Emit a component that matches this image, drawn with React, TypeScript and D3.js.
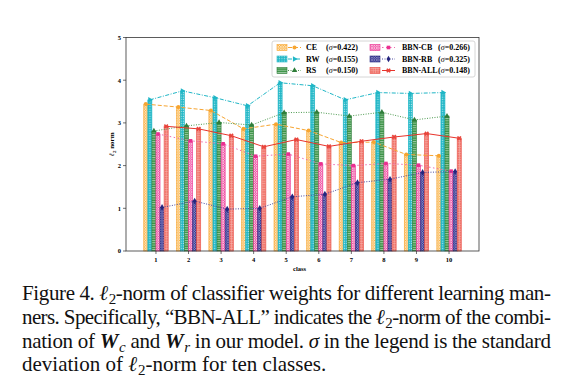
import { useEffect, useRef } from 'react'
import * as d3 from 'd3'

const classes = [1, 2, 3, 4, 5, 6, 7, 8, 9, 10]
const ceValues = [3.44, 3.37, 3.29, 2.86, 2.97, 2.82, 2.54, 2.55, 2.26, 2.23]
const rwValues = [3.54, 3.75, 3.59, 3.4, 3.94, 3.87, 3.54, 3.71, 3.69, 3.71]
const rsValues = [2.81, 2.93, 3.01, 2.95, 3.24, 3.25, 3.16, 3.25, 3.07, 3.16]
const cbValues = [2.74, 2.58, 2.51, 2.22, 2.27, 2.04, 2.0, 2.05, 2.01, 1.87]
const rbValues = [1.02, 1.17, 0.98, 1.0, 1.27, 1.33, 1.6, 1.68, 1.84, 1.86]
const allValues = [2.92, 2.86, 2.7, 2.44, 2.61, 2.45, 2.57, 2.67, 2.75, 2.64]
const seriesNames = ['CE', 'RW', 'RS', 'BBN-CB', 'BBN-RB', 'BBN-ALL']
const sigmaLabels = ['0.422', '0.155', '0.150', '0.266', '0.325', '0.148']
const yTicks = [0, 1, 2, 3, 4, 5]

type Run = { t: string; italic?: boolean; bold?: boolean; sub?: boolean }

const captionLines: Run[][] = [
  [
    { t: 'Figure 4. ' },
    { t: 'ℓ', italic: true },
    { t: '2', sub: true },
    { t: '-norm of classifier weights for different learning man-' },
  ],
  [
    { t: 'ners. Specifically, “BBN-ALL” indicates the ' },
    { t: 'ℓ', italic: true },
    { t: '2', sub: true },
    { t: '-norm of the combi-' },
  ],
  [
    { t: 'nation of ' },
    { t: 'W', italic: true, bold: true },
    { t: 'c', italic: true, sub: true },
    { t: ' and ' },
    { t: 'W', italic: true, bold: true },
    { t: 'r', italic: true, sub: true },
    { t: ' in our model. ' },
    { t: 'σ', italic: true },
    { t: ' in the legend is the standard' },
  ],
  [
    { t: 'deviation of ' },
    { t: 'ℓ', italic: true },
    { t: '2', sub: true },
    { t: '-norm for ten classes.' },
  ],
]

// style per series: base fill, stroke, line dash, marker
const styles = [
  { fill: '#fbb347', stroke: '#f7a531', line: '#f7a531', dash: '4,2', symbol: d3.symbolCircle, rot: 0 },
  { fill: '#1fb6c6', stroke: '#1fb6c6', line: '#1fb6c6', dash: '4,1.5,1,1.5', symbol: d3.symbolTriangle, rot: 90 },
  { fill: '#3a9445', stroke: '#2f7d3a', line: '#4c9a4f', dash: '1,1.5', symbol: d3.symbolTriangle, rot: 0 },
  { fill: '#f0489f', stroke: '#ea2f90', line: '#f06aae', dash: '1.5,2.5', symbol: d3.symbolSquare, rot: 0 },
  { fill: '#2e2e8e', stroke: '#25257e', line: '#4a4aa0', dash: '1,1.5', symbol: d3.symbolDiamond, rot: 0 },
  { fill: '#f0756b', stroke: '#e8453c', line: '#e8332b', dash: '', symbol: d3.symbolCross, rot: 45 },
]

const FONT = "'Liberation Serif', 'Times New Roman', serif"

export default function App() {
  const svgRef = useRef<SVGSVGElement | null>(null)

  useEffect(() => {
    const svgEl = svgRef.current
    if (!svgEl) return
    const svg = d3.select(svgEl)
    svg.selectAll('*').remove()

    const seriesValues = [ceValues, rwValues, rsValues, cbValues, rbValues, allValues]

    const x = d3.scaleLinear().domain([0.08, 10.92]).range([126, 479])
    const y = d3.scaleLinear().domain([0, 5]).range([251, 37.5])
    const barW = 0.125
    const barPx = x(barW) - x(0)

    // hatch patterns
    const defs = svg.append('defs')
    const mkPattern = (id: string, size: number, base: string) => {
      const p = defs
        .append('pattern')
        .attr('id', id)
        .attr('patternUnits', 'userSpaceOnUse')
        .attr('width', size)
        .attr('height', size)
      p.append('rect').attr('width', size).attr('height', size).attr('fill', base)
      return p
    }
    const cross = (p: any, size: number, w: number, op: number) =>
      p
        .append('path')
        .attr('d', `M0,0L${size},${size}M${size},0L0,${size}`)
        .attr('stroke', '#fff')
        .attr('stroke-width', w)
        .attr('opacity', op)

    cross(mkPattern('h0', 2.6, styles[0].fill), 2.6, 0.7, 0.75)
    const p1 = mkPattern('h1', 2.4, styles[1].fill)
    p1.append('rect').attr('x', 0.6).attr('y', 0.6).attr('width', 1.1).attr('height', 1.1).attr('fill', '#fff').attr('opacity', 0.75)
    const p2 = mkPattern('h2', 2.3, styles[2].fill)
    p2.append('rect').attr('y', 0.9).attr('width', 2.3).attr('height', 0.8).attr('fill', '#fff').attr('opacity', 0.6)
    cross(mkPattern('h3', 2.4, styles[3].fill), 2.4, 0.7, 0.75)
    cross(mkPattern('h4', 2.4, styles[4].fill), 2.4, 0.6, 0.55)
    const p5 = mkPattern('h5', 2.4, styles[5].fill)
    p5.append('path').attr('d', 'M0,1.2H2.4M1.2,0V2.4').attr('stroke', '#fff').attr('stroke-width', 0.5).attr('opacity', 0.45)

    // bars
    seriesValues.forEach((vals, i) => {
      svg
        .append('g')
        .selectAll('rect')
        .data(vals)
        .enter()
        .append('rect')
        .attr('x', (_, k) => x(classes[k] + (i - 3) * barW))
        .attr('y', (d) => y(d))
        .attr('width', barPx)
        .attr('height', (d) => y(0) - y(d))
        .attr('fill', `url(#h${i})`)
        .attr('stroke', styles[i].stroke)
        .attr('stroke-width', 0.6)
    })

    // lines + markers
    seriesValues.forEach((vals, i) => {
      const pts = vals.map((v, k) => [x(classes[k] + (i - 2.5) * barW), y(v)] as [number, number])
      svg
        .append('path')
        .attr('d', d3.line()(pts) ?? '')
        .attr('fill', 'none')
        .attr('stroke', styles[i].line)
        .attr('stroke-width', 1)
        .attr('stroke-dasharray', styles[i].dash || null)
      const sym = d3.symbol().type(styles[i].symbol).size(i === 5 ? 14 : 13)
      svg
        .append('g')
        .selectAll('path')
        .data(pts)
        .enter()
        .append('path')
        .attr('d', sym() ?? '')
        .attr('transform', (p) => `translate(${p[0]},${p[1]}) rotate(${styles[i].rot})`)
        .attr('fill', styles[i].stroke)
    })

    // frame
    svg
      .append('rect')
      .attr('x', 126)
      .attr('y', 37.5)
      .attr('width', 479 - 126)
      .attr('height', 251 - 37.5)
      .attr('fill', 'none')
      .attr('stroke', '#333')
      .attr('stroke-width', 0.8)

    // y ticks
    const yg = svg.append('g').attr('font-family', FONT).attr('font-weight', 'bold').attr('font-size', 6.5)
    yTicks.forEach((t) => {
      yg.append('line').attr('x1', 123).attr('x2', 126).attr('y1', y(t)).attr('y2', y(t)).attr('stroke', '#333').attr('stroke-width', 0.7)
      yg.append('text').attr('x', 121).attr('y', y(t) + 2.3).attr('text-anchor', 'end').text(String(t))
    })
    classes.forEach((c) => {
      yg.append('line').attr('x1', x(c)).attr('x2', x(c)).attr('y1', 251).attr('y2', 254).attr('stroke', '#333').attr('stroke-width', 0.7)
      yg.append('text').attr('x', x(c)).attr('y', 262).attr('text-anchor', 'middle').text(String(c))
    })
    yg.append('text').attr('x', (126 + 479) / 2 - 3).attr('y', 271).attr('text-anchor', 'middle').attr('font-size', 6.5).text('class')
    const yl = yg
      .append('text')
      .attr('transform', `translate(114,${(37.5 + 251) / 2}) rotate(-90)`)
      .attr('text-anchor', 'middle')
      .attr('font-size', 7)
    yl.append('tspan').attr('font-style', 'italic').text('ℓ')
    yl.append('tspan').attr('font-size', 5).attr('dy', 1.5).text('2')
    yl.append('tspan').attr('dy', -1.5).text(' norm')

    // legend
    const lg = svg.append('g').attr('font-family', FONT).attr('font-weight', 'bold').attr('font-size', 8)
    lg.append('rect')
      .attr('x', 272)
      .attr('y', 41)
      .attr('width', 203)
      .attr('height', 36)
      .attr('rx', 2)
      .attr('fill', '#fff')
      .attr('fill-opacity', 0.85)
      .attr('stroke', '#ccc')
      .attr('stroke-width', 0.8)
    const rowY = [47.5, 59, 70.5]
    const colX = [
      { patch: 277, line: 288, name: 306, sigma: 326 },
      { patch: 370, line: 382, name: 402, sigma: 438 },
    ]
    seriesNames.forEach((name, i) => {
      const col = colX[Math.floor(i / 3)]
      const ry = rowY[i % 3]
      lg.append('rect')
        .attr('x', col.patch)
        .attr('y', ry - 3)
        .attr('width', 10)
        .attr('height', 6)
        .attr('fill', `url(#h${i})`)
        .attr('stroke', styles[i].stroke)
        .attr('stroke-width', 0.6)
      lg.append('line')
        .attr('x1', col.line)
        .attr('x2', col.line + 13)
        .attr('y1', ry)
        .attr('y2', ry)
        .attr('stroke', styles[i].line)
        .attr('stroke-width', 1)
        .attr('stroke-dasharray', styles[i].dash || null)
      lg.append('path')
        .attr('d', d3.symbol().type(styles[i].symbol).size(13)() ?? '')
        .attr('transform', `translate(${col.line + 6.5},${ry}) rotate(${styles[i].rot})`)
        .attr('fill', styles[i].stroke)
      lg.append('text').attr('x', col.name).attr('y', ry + 2.8).text(name)
      const st = lg.append('text').attr('x', col.sigma).attr('y', ry + 2.8)
      st.append('tspan').text('(')
      st.append('tspan').attr('font-style', 'italic').attr('font-weight', 'normal').text('σ')
      st.append('tspan').text(`=${sigmaLabels[i]})`)
    })

    // caption
    const baselines = [299.5, 323.5, 347.5, 371]
    captionLines.forEach((runs, li) => {
      const tx = svg
        .append('text')
        .attr('x', 22)
        .attr('y', baselines[li])
        .attr('font-family', FONT)
        .attr('font-size', 21)
        .attr('fill', '#111')
      if (li < 3) tx.attr('textLength', 529).attr('lengthAdjust', 'spacing')
      let shifted = false
      runs.forEach((r) => {
        const ts = tx.append('tspan').text(r.t)
        if (r.italic) ts.attr('font-style', 'italic')
        if (r.bold) ts.attr('font-weight', 'bold')
        if (r.sub && !shifted) {
          ts.attr('dy', 4).attr('dx', 1).attr('font-size', 15)
          shifted = true
        } else if (!r.sub && shifted) {
          ts.attr('dy', -4)
          shifted = false
        } else if (r.sub) {
          ts.attr('font-size', 15)
        }
      })
    })
  }, [])

  return (
    <svg
      ref={svgRef}
      width={580}
      height={390}
      style={{ position: 'absolute', left: 0, top: 0, background: '#fff' }}
    />
  )
}
